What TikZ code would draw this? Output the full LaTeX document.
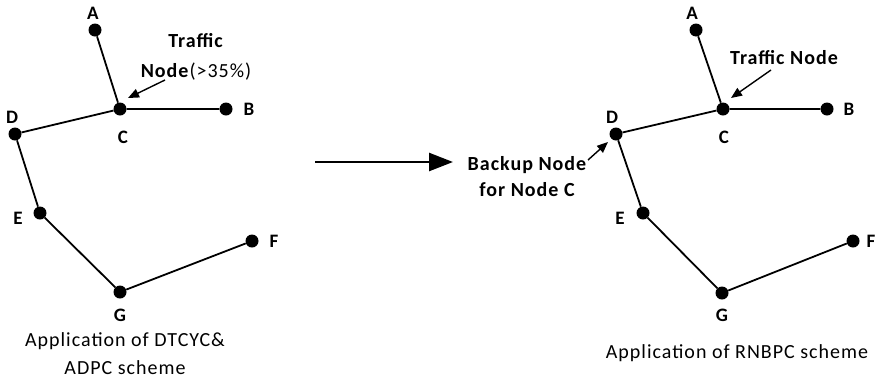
\documentclass[tikz,border=0pt]{standalone}
\usepackage{fontspec}
\setmainfont{Carlito}
\usetikzlibrary{arrows.meta}
\newcommand{\wide}{\addfontfeature{LetterSpace=5}}
\tikzset{
  dot/.style={circle,fill=black,inner sep=0pt,minimum size=13pt},
  edge/.style={line width=1.8pt},
  lbl/.style={font=\fontsize{19}{22}\selectfont\bfseries,inner sep=0pt},
  note/.style={font=\fontsize{20}{23}\selectfont\wide,inner sep=0pt,align=center},
  pointer/.style={line width=1.4pt,-{Triangle[length=11pt,width=9pt]}},
  bigarrow/.style={line width=2.6pt,-{Triangle[length=24pt,width=18pt]}}
}
\begin{document}
\begin{tikzpicture}[x=1pt,y=-1pt]
\useasboundingbox (0,0) rectangle (878,381);
% left graph
\node[dot] (lA) at (95,30) {};
\node[dot] (lC) at (120,109) {};
\node[dot] (lB) at (226,109) {};
\node[dot] (lD) at (15,134) {};
\node[dot] (lE) at (40,213) {};
\node[dot] (lG) at (120,292) {};
\node[dot] (lF) at (252,241) {};
\draw[edge] (lA) -- (lC) -- (lB);
\draw[edge] (lC) -- (lD) -- (lE) -- (lG) -- (lF);
\node[lbl] (lAl) at (93,13) {A};
\node[lbl] (lBl) at (249,109) {B};
\node[lbl] (lCl) at (123,137) {C};
\node[lbl] (lDl) at (12,117) {D};
\node[lbl] (lEl) at (18,218) {E};
\node[lbl] (lFl) at (274,241) {F};
\node[lbl] (lGl) at (120,315) {G};
\node[note] (ltraffic) at (196,57) {\textbf{Traffic}\\[7pt]\textbf{Node}(>35\%)};
\coordinate (lts) at (165,80);
\draw[pointer] (lts) -- (128,98) coordinate (lte);
\node[note] (lcap) at (125,354) {Application of DTCYC\&\\[5pt]ADPC scheme};
% middle arrow
\coordinate (ms) at (315,162);
\coordinate (me) at (453,162);
\draw[bigarrow] (ms) -- (me);
% right graph
\node[dot] (rA) at (696,30) {};
\node[dot] (rC) at (723,109) {};
\node[dot] (rB) at (827,109) {};
\node[dot] (rD) at (616,134) {};
\node[dot] (rE) at (643,213) {};
\node[dot] (rG) at (722,293) {};
\node[dot] (rF) at (853,241) {};
\draw[edge] (rA) -- (rC) -- (rB);
\draw[edge] (rC) -- (rD) -- (rE) -- (rG) -- (rF);
\node[lbl] (rAl) at (692,13) {A};
\node[lbl] (rBl) at (849,109) {B};
\node[lbl] (rCl) at (724,137) {C};
\node[lbl] (rDl) at (612,117) {D};
\node[lbl] (rEl) at (620,218) {E};
\node[lbl] (rFl) at (871,241) {F};
\node[lbl] (rGl) at (722,315) {G};
\node[note,font=\fontsize{20}{23}\selectfont\bfseries\wide] (rtraffic) at (784,58) {Traffic Node};
\coordinate (rts) at (771,70);
\draw[pointer] (rts) -- (731,98) coordinate (rte);
\node[note,font=\fontsize{20}{23}\selectfont\bfseries\wide] (rbackup) at (527,177) {Backup Node\\[3pt]for Node C};
\coordinate (rbs) at (588,160);
\draw[pointer] (rbs) -- (608,142) coordinate (rbe);
\node[note] (rcap) at (737,353) {Application of RNBPC scheme};
\end{tikzpicture}
\end{document}
